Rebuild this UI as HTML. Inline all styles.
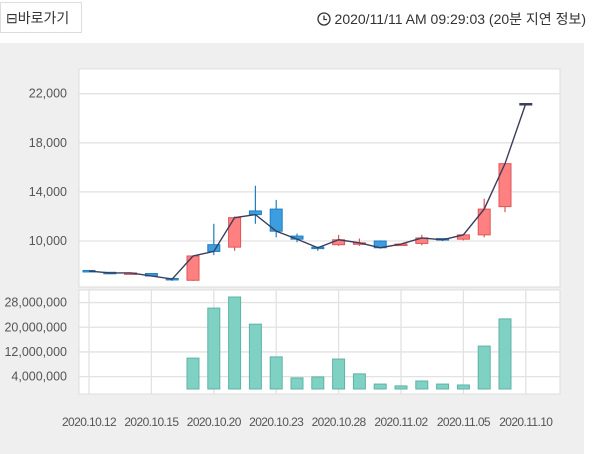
<!DOCTYPE html>
<html><head><meta charset="utf-8">
<style>
body{margin:0;width:600px;height:454px;background:#fff;font-family:"Liberation Sans","Noto Sans CJK KR",sans-serif;overflow:hidden;position:relative}
#btn{position:absolute;left:0;top:2px;width:82px;height:31px;border:1px solid #ddd;box-sizing:border-box;font-size:14px;color:#333;line-height:30px;padding-left:5px}
#time{position:absolute;right:14px;top:9px;font-size:14px;color:#333}
#panel{position:absolute;left:0;top:43px;width:584px;height:411px;background:#efefef}
svg{position:absolute;left:0;top:0}
</style></head><body>
<div id="btn">⊟바로가기</div>
<div id="time"><svg width="14" height="14" style="position:relative;vertical-align:-2px"><circle cx="7" cy="7" r="6" fill="none" stroke="#333" stroke-width="1.3"/><path d="M7 3.5V7.5H10" fill="none" stroke="#333" stroke-width="1.3"/></svg> 2020/11/11 AM 09:29:03 (20분 지연 정보)</div>
<div id="panel"></div>
<svg id="c" width="600" height="454"></svg>
<script>
const dates=['2020.10.12','','','2020.10.15','','','2020.10.20','','','2020.10.23','','','2020.10.28','','','2020.11.02','','','2020.11.05','','','2020.11.10'];
const opens=[7600,7450,7380,7350,6950,6800,9700,9500,12450,12600,10400,9500,9700,9800,10000,9700,9800,10200,10150,10500,12800,21200];
const highs=[7600,7450,7450,7350,6950,8800,11400,12000,14500,13350,10600,9500,10500,10200,10050,9800,10500,10200,10550,13450,16300,21200];
const lows=[7500,7350,7350,7100,6750,6750,8850,9200,11400,10300,9900,9200,9600,9600,9400,9600,9650,10000,10050,10300,12350,21200];
const closes=[7550,7400,7400,7150,6900,8780,9150,11900,12150,10800,10150,9450,10100,9850,9450,9750,10250,10100,10500,12600,16300,21200];
const volumes=[0,0,0,0,0,10000000,26200000,29800000,21000000,10400000,3600000,3900000,9700000,4900000,1600000,1000000,2600000,1600000,1300000,13900000,22700000,0];
const priceTicks=[10000,14000,18000,22000];
const volTicks=[4000000,12000000,20000000,28000000];
const NS='http://www.w3.org/2000/svg',svg=document.getElementById('c');
function mk(t,a,p){const e=document.createElementNS(NS,t);for(const k in a)e.setAttribute(k,a[k]);(p||svg).appendChild(e);return e;}
const X=i=>89+i*20.8;
const Y=v=>241-(v-10000)*0.012275;
const VY=v=>389-v*0.0000030875;
let e=mk('rect',{x:79,y:69,width:481,height:218,fill:'#fff',stroke:'#ddd'});

e=mk('rect',{x:79,y:290,width:481,height:104,fill:'#fff',stroke:'#ddd'});

priceTicks.forEach(v=>{
 mk('line',{x1:79,x2:560,y1:Y(v),y2:Y(v),stroke:'#e2e2e2','stroke-width':1.3});
 const t=mk('text',{x:67,y:Y(v)+4,'text-anchor':'end','font-size':12.5,fill:'#555'});t.textContent=v.toLocaleString('en-US');
 
});
volTicks.forEach(v=>{
 mk('line',{x1:79,x2:560,y1:VY(v),y2:VY(v),stroke:'#e2e2e2','stroke-width':1.3});
 const t=mk('text',{x:67,y:VY(v)+4,'text-anchor':'end','font-size':12.5,fill:'#555'});t.textContent=v.toLocaleString('en-US');
 
});
dates.forEach((d,i)=>{if(!d)return;
 mk('line',{x1:X(i),x2:X(i),y1:290,y2:394,stroke:'#e2e2e2','stroke-width':1.3});
 const t=mk('text',{x:X(i),y:426,'text-anchor':'middle','font-size':12,fill:'#555','letter-spacing':'-0.6'});t.textContent=d;
 
});
volumes.forEach((v,i)=>{if(!v)return;
 const b=mk('rect',{x:X(i)-6,y:VY(v),width:12,height:389-VY(v),fill:'#7fd1c4',stroke:'#5fb3a6'});
 
});
closes.forEach((c,i)=>{
 const o=opens[i],flat=c===o,up=c>o;
 const col=flat?'#3b3d5c':(up?'#e05555':'#1f7fc0'),fill=flat?'#3b3d5c':(up?'#ff8080':'#3a9ee0');
 mk('line',{x1:X(i),x2:X(i),y1:Y(highs[i]),y2:Y(lows[i]),stroke:col,'stroke-width':1.2});
 const top=Y(Math.max(o,c)),h=Math.max(1.5,Math.abs(Y(o)-Y(c)));
 const r=mk('rect',{x:X(i)-6,y:top,width:12,height:h,fill:fill,stroke:col});
 
});
const pl=mk('polyline',{points:closes.map((c,i)=>X(i)+','+Y(c)).join(' '),fill:'none',stroke:'#3b3d5c','stroke-width':1.4});

</script>
</body></html>
